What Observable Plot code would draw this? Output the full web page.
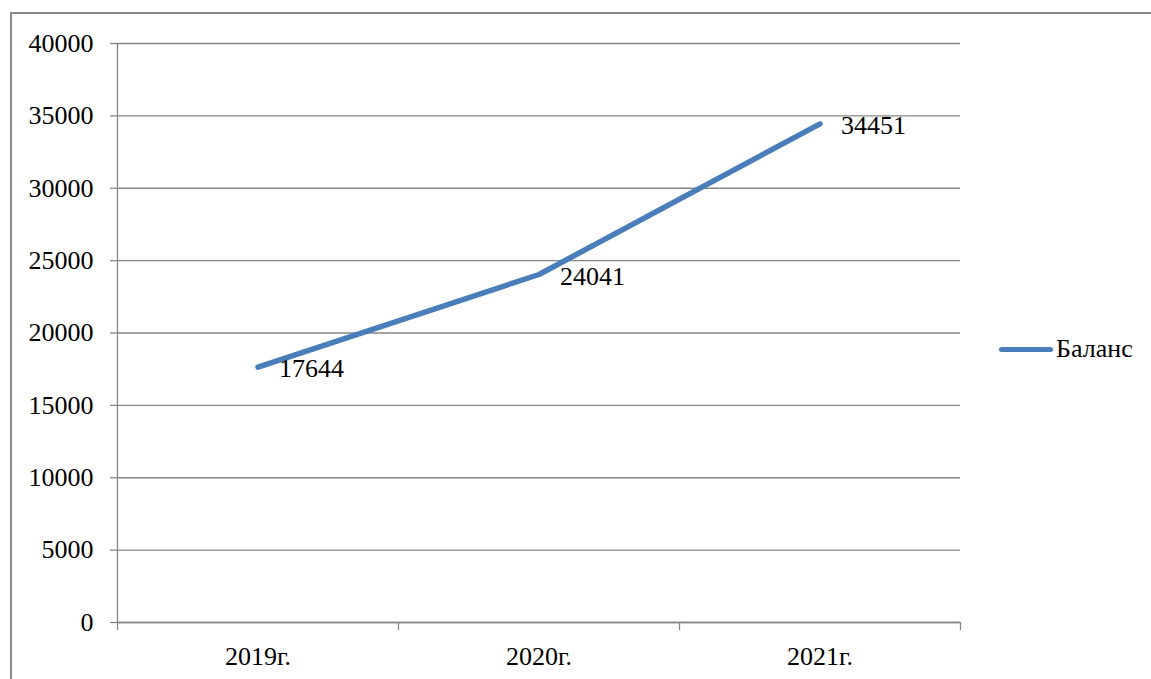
<!DOCTYPE html>
<html>
<head>
<meta charset="utf-8">
<script src="https://cdn.jsdelivr.net/npm/d3@7"></script>
<script src="https://cdn.jsdelivr.net/npm/@observablehq/plot@0.6"></script>
<style>
  html, body { margin: 0; padding: 0; background: #fff; overflow: hidden; }
  #wrap { position: relative; width: 1151px; height: 679px; }
  #border { position: absolute; left: 10px; top: 12px; width: 1200px; height: 720px; border: 2px solid #8a8a8a; box-sizing: border-box; pointer-events: none; }
  #legend { position: absolute; left: 999px; top: 334px; display: flex; align-items: center; font-family: "Times New Roman", "Liberation Serif", serif; font-size: 26px; color: #000; }
  #legend .sw { width: 54px; height: 5px; background: #4a7ebb; border-radius: 3px; margin-right: 3px; }
  #chart svg, #chart svg text { font-family: "Times New Roman", "Liberation Serif", serif !important; }
</style>
</head>
<body>
<div id="wrap">
  <div id="chart"></div>
  <div id="border"></div>
  <div id="legend"><span class="sw"></span><span>Баланс</span></div>
</div>
<script>
const categories = ["2019г.", "2020г.", "2021г."];
const balance = [17644, 24041, 34451];
const yTicks = [0, 5000, 10000, 15000, 20000, 25000, 30000, 35000, 40000];
const seriesName = "Баланс";

const data = categories.map((c, i) => ({i, cat: c, value: balance[i]}));
const boundaries = d3.range(categories.length + 1).map(k => k - 0.5);
const gridColor = "#868686";
const lineColor = "#4a7ebb";
const serif = "Times New Roman, Liberation Serif, serif";

const chart = Plot.plot({
  width: 1151,
  height: 679,
  marginLeft: 117,
  marginRight: 191,
  marginTop: 43,
  marginBottom: 57,
  style: {fontFamily: serif, fontSize: "26px", color: "#000", background: "#fff"},
  x: {type: "linear", domain: [-0.5, categories.length - 0.5], axis: null, label: null},
  y: {domain: [0, 40000], axis: null, label: null},
  marks: [
    Plot.gridY(yTicks, {stroke: gridColor, strokeOpacity: 1, strokeWidth: 1.3}),
    Plot.axisY(yTicks, {label: null, tickSize: 7, tickPadding: 17, stroke: gridColor, strokeWidth: 1.3, tickFormat: d => String(d), fontSize: 26, fontFamily: serif, fill: "#000"}),
    Plot.ruleX([-0.5], {stroke: gridColor, strokeWidth: 1.3}),
    Plot.ruleY([0], {stroke: gridColor, strokeWidth: 1.3}),
    Plot.axisX(boundaries, {label: null, tickSize: 8, tickFormat: () => "", stroke: gridColor, strokeWidth: 1.3}),
    Plot.axisX(data.map(d => d.i), {label: null, tickSize: 0, tickPadding: 24, tickFormat: i => categories[i], fontSize: 26, fontFamily: serif, fill: "#000"}),
    Plot.line(data, {x: "i", y: "value", stroke: lineColor, strokeWidth: 5.5, strokeLinecap: "round", strokeLinejoin: "round"}),
    Plot.text(data, {x: "i", y: "value", text: d => String(d.value), textAnchor: "start", dx: 21, dy: 2, fontSize: 26, fontFamily: serif, fill: "#000"})
  ]
});
document.getElementById("chart").appendChild(chart);
</script>
</body>
</html>
